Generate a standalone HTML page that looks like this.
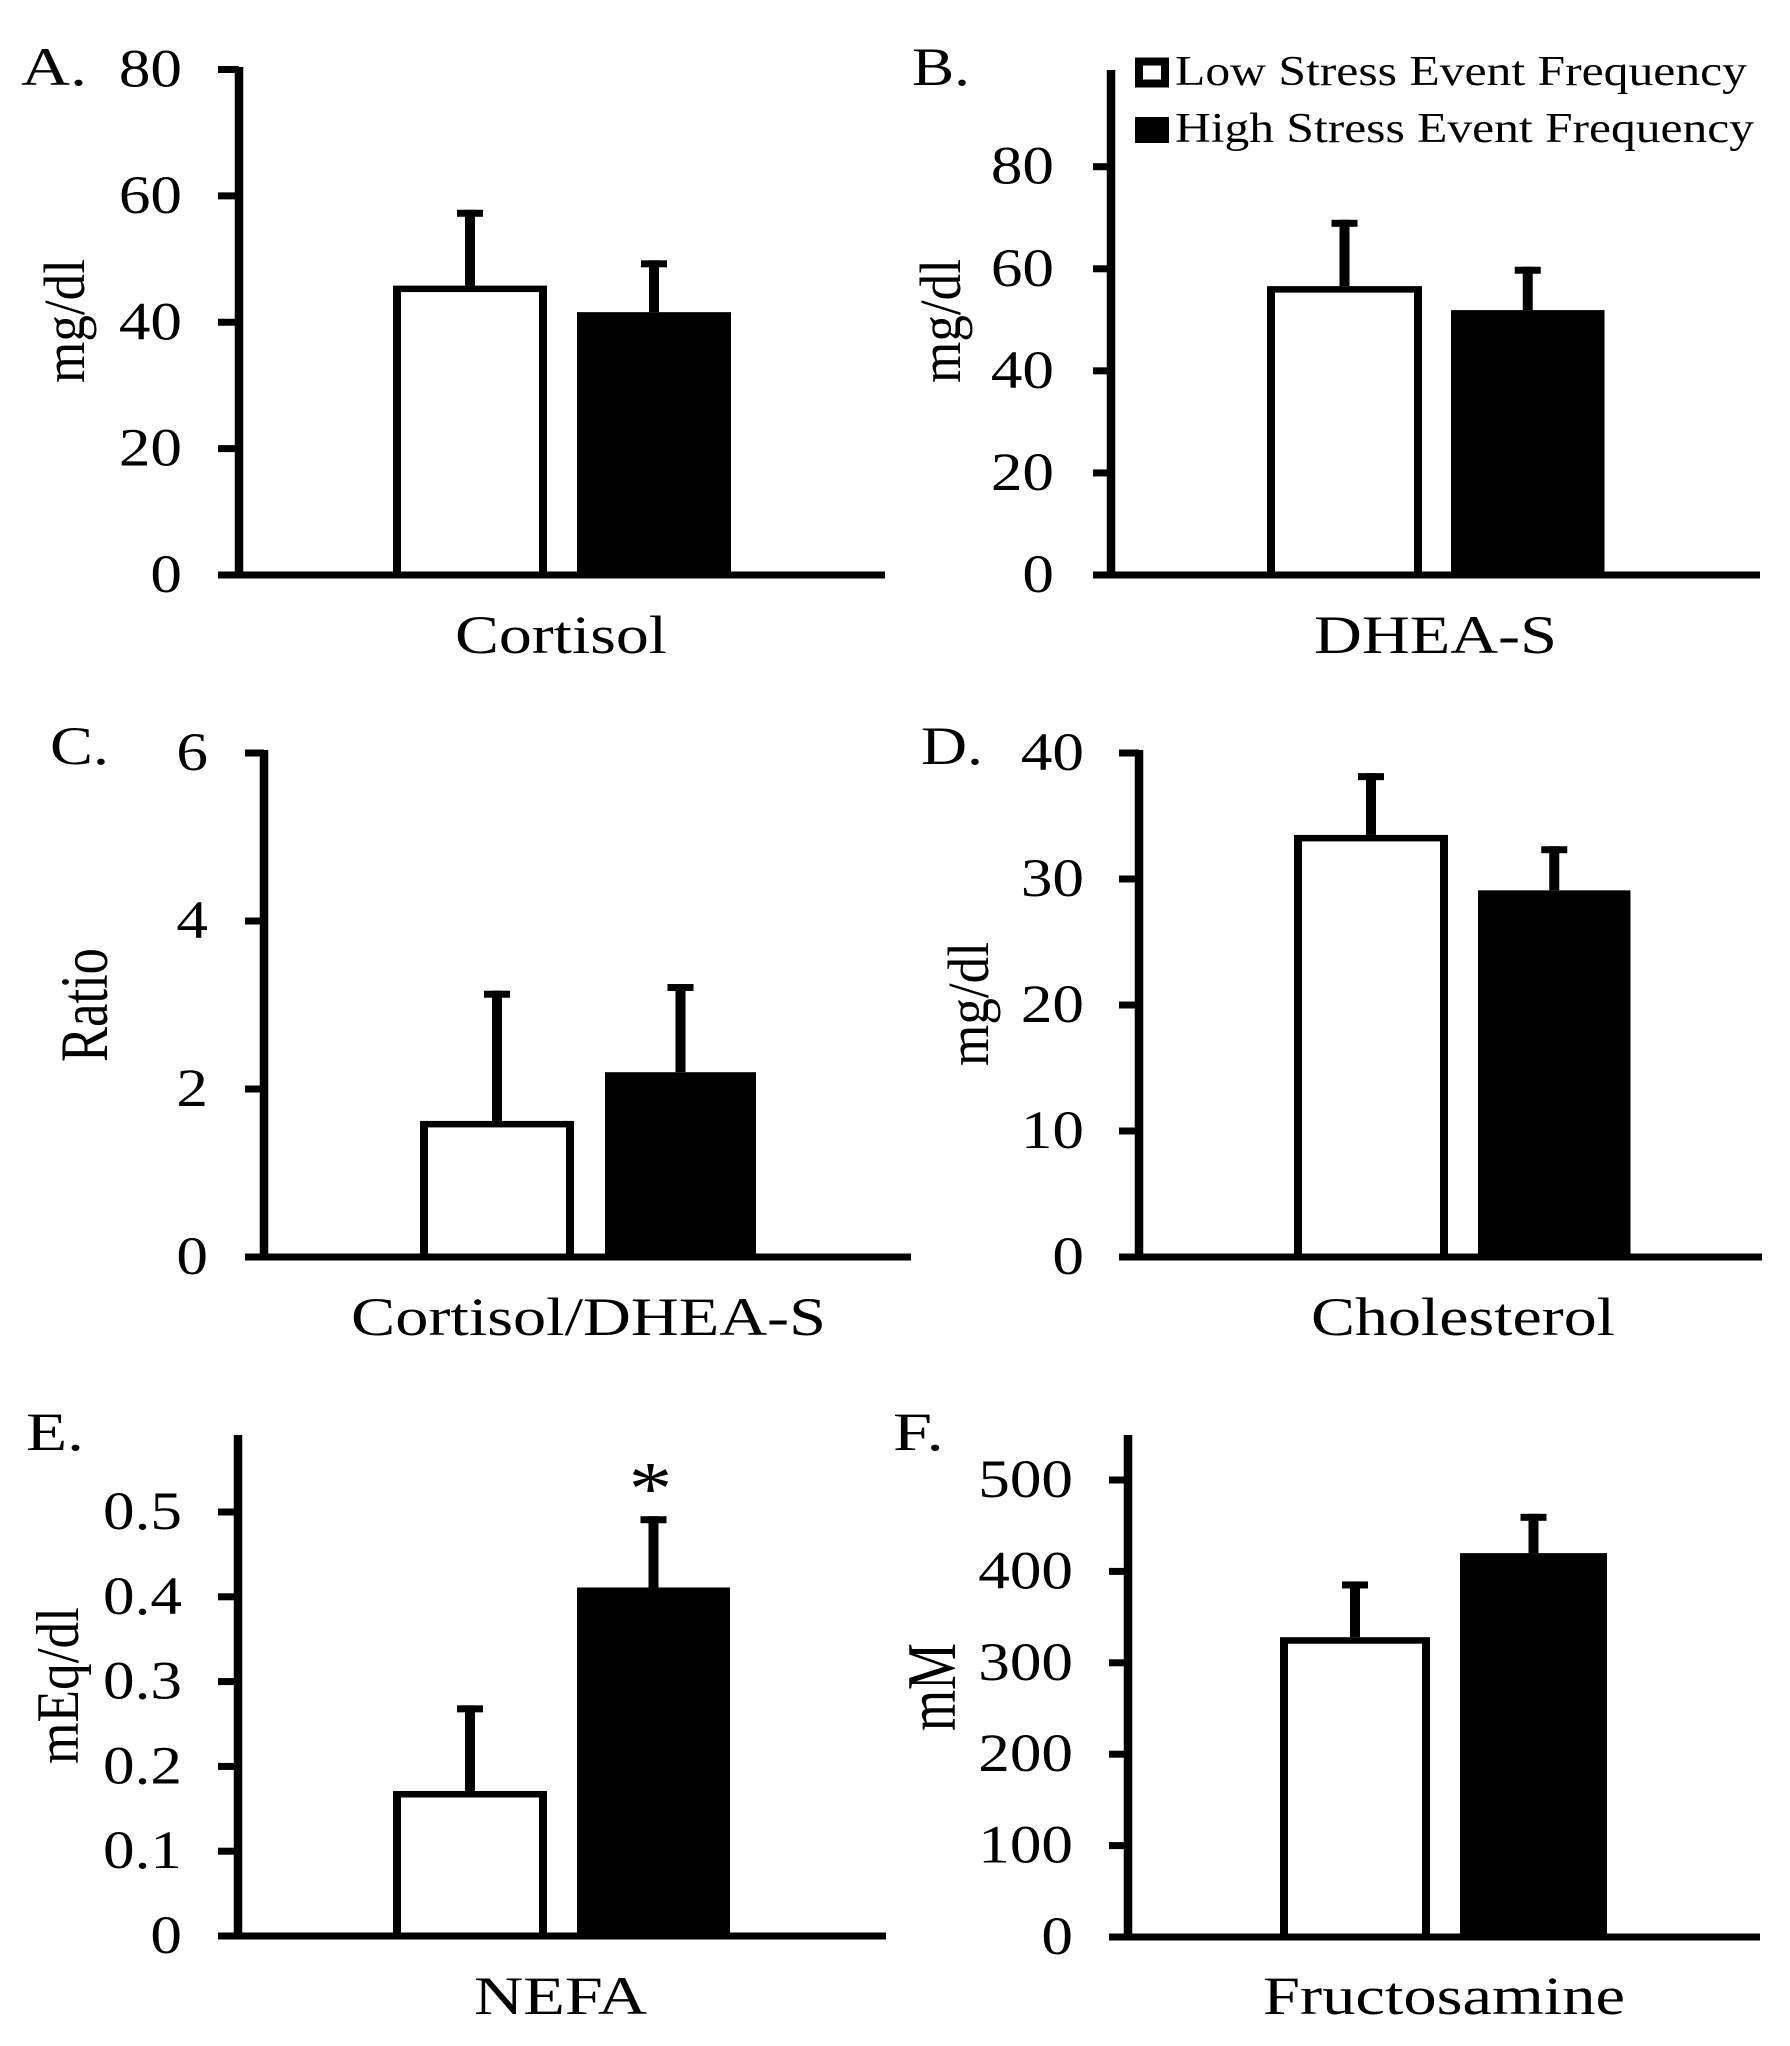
<!DOCTYPE html>
<html lang="en">
<head>
<meta charset="utf-8">
<title>Stress event frequency biomarkers</title>
<style>
html,body{margin:0;padding:0;background:#fff;}
svg{display:block;}
text{font-family:"Liberation Serif",serif;fill:#000;}
</style>
</head>
<body>
<svg id="figure" xmlns="http://www.w3.org/2000/svg" width="1790" height="2046" viewBox="0 0 1790 2046">
  <rect x="0" y="0" width="1790" height="2046" fill="#fff"/>
  <g>
    <g>
      <rect x="1139" y="61.5" width="26" height="22" fill="#fff" stroke="#000" stroke-width="8"/>
      <text x="1175" y="85" font-size="42" textLength="572" lengthAdjust="spacingAndGlyphs">Low Stress Event Frequency</text>
    </g>
    <g>
      <rect x="1135" y="117" width="34" height="26" fill="#000"/>
      <text x="1175" y="142" font-size="42" textLength="579" lengthAdjust="spacingAndGlyphs">High Stress Event Frequency</text>
    </g>
  </g>
</svg>
<script>
// Chart data
const categories = ['Cortisol', 'DHEA-S', 'Cortisol/DHEA-S', 'Cholesterol', 'NEFA', 'Fructosamine'];
const panelLetters = ['A.', 'B.', 'C.', 'D.', 'E.', 'F.'];
const yTitles = ['mg/dl', 'mg/dl', 'Ratio', 'mg/dl', 'mEq/dl', 'mM'];
const lowMeans = [45.8, 56.6, 1.62, 33.5, 0.171, 328];
const lowErrors = [12, 13, 1.55, 4.9, 0.101, 61];
const highMeans = [41.6, 51.9, 2.2, 29.1, 0.411, 420];
const highErrors = [8.2, 8.5, 1.05, 3.5, 0.084, 43];
const ticksA = [0, 20, 40, 60, 80];
const ticksB = [0, 20, 40, 60, 80];
const ticksC = [0, 2, 4, 6];
const ticksD = [0, 10, 20, 30, 40];
const ticksE = [0, 0.1, 0.2, 0.3, 0.4, 0.5];
const ticksF = [0, 100, 200, 300, 400, 500];
const tickSets = [ticksA, ticksB, ticksC, ticksD, ticksE, ticksF];
const significance = ['', '', '', '', '*', ''];

// Panel geometry (layout only)
const layouts = [
  {axisX:239, axisTop:67, base:575, calV:80, calY:69.5, tickL:218, right:885, low:[393,547], high:[577,731], labelR:182,
   letter:{x:21,y:85,w:66}, cat:{x:455,y:653,w:212}, title:{x:84,bottom:383,len:124,fs:58}},
  {axisX:1111, axisTop:70, base:575, calV:80, calY:166.7, tickL:1093, right:1760, low:[1267,1422], high:[1451,1604.5], labelR:1054,
   letter:{x:912,y:85,w:58}, cat:{x:1314,y:653,w:243}, title:{x:960,bottom:383,len:124,fs:58}},
  {axisX:264, axisTop:750, base:1257, calV:6, calY:753, tickL:245, right:911, low:[420,574], high:[605,756], labelR:208,
   letter:{x:50,y:764,w:59}, cat:{x:351,y:1335,w:475}, title:{x:107,bottom:1062,len:114,fs:68}},
  {axisX:1139, axisTop:750, base:1257, calV:40, calY:753, tickL:1119, right:1762, low:[1294,1448], high:[1478,1630.5], labelR:1084,
   letter:{x:921,y:764,w:62}, cat:{x:1311,y:1335,w:304}, title:{x:988,bottom:1066,len:124,fs:58}},
  {axisX:238, axisTop:1435, base:1936, calV:0.5, calY:1512, tickL:218, right:886, low:[393,547], high:[577,730], labelR:182,
   letter:{x:26,y:1450,w:58}, cat:{x:474,y:2014,w:173}, title:{x:78,bottom:1764,len:157,fs:60}},
  {axisX:1128, axisTop:1435, base:1937, calV:500, calY:1480, tickL:1109, right:1760, low:[1280,1430], high:[1460,1607], labelR:1073,
   letter:{x:893,y:1450,w:51}, cat:{x:1263,y:2014,w:362}, title:{x:955,bottom:1731,len:88,fs:70}}
];

const SVG_NS = 'http://www.w3.org/2000/svg';
const figure = document.getElementById('figure');

function makeRect(parent, x, y, w, h, fill) {
  const r = document.createElementNS(SVG_NS, 'rect');
  r.setAttribute('x', x);
  r.setAttribute('y', y);
  r.setAttribute('width', w);
  r.setAttribute('height', h);
  r.setAttribute('fill', fill);
  parent.appendChild(r);
  return r;
}
function makeText(parent, content, fontSize) {
  const t = document.createElementNS(SVG_NS, 'text');
  t.setAttribute('font-size', fontSize);
  t.textContent = content;
  parent.appendChild(t);
  return t;
}
function makeGroup(parent) {
  const g = document.createElementNS(SVG_NS, 'g');
  parent.appendChild(g);
  return g;
}

const LINE_V = 8.5, LINE_H = 7, BAR_V = 8, BAR_H = 6.5, STEM = 10, CAP_W = 26, CAP_H = 7;

function drawErrorBar(parent, center, yMean, yTop, key) {
  const stem = makeRect(parent, center - STEM / 2, yTop, STEM, yMean - yTop, '#000');
  
  
  const cap = makeRect(parent, center - CAP_W / 2, yTop, CAP_W, CAP_H, '#000');
  
  
}

categories.forEach(function (category, i) {
  const L = layouts[i];
  const pxPerUnit = (L.base - L.calY) / L.calV;
  const y = function (v) { return L.base - v * pxPerUnit; };

  const panel = makeGroup(figure);
  
  

  // Panel letter
  const letter = makeText(panel, panelLetters[i], 54);
  letter.setAttribute('x', L.letter.x);
  letter.setAttribute('y', L.letter.y);
  letter.setAttribute('textLength', L.letter.w);
  letter.setAttribute('lengthAdjust', 'spacingAndGlyphs');
  
  

  // Y axis title
  const title = makeText(panel, yTitles[i], L.title.fs);
  title.setAttribute('transform', 'translate(' + L.title.x + ',' + L.title.bottom + ') rotate(-90)');
  title.setAttribute('textLength', L.title.len);
  title.setAttribute('lengthAdjust', 'spacingAndGlyphs');
  
  

  // Bars
  const lowTop = y(lowMeans[i]);
  const lowOuter = makeRect(panel, L.low[0], lowTop, L.low[1] - L.low[0], L.base - lowTop, '#000');
  
  
  const lowInner = makeRect(panel, L.low[0] + BAR_V, lowTop + BAR_H, L.low[1] - L.low[0] - 2 * BAR_V, L.base - lowTop - BAR_H, '#fff');
  
  
  drawErrorBar(panel, (L.low[0] + L.low[1]) / 2, lowTop, y(lowMeans[i] + lowErrors[i]), 'low-stress');

  const highTop = y(highMeans[i]);
  const highBar = makeRect(panel, L.high[0], highTop, L.high[1] - L.high[0], L.base - highTop, '#000');
  
  
  drawErrorBar(panel, (L.high[0] + L.high[1]) / 2, highTop, y(highMeans[i] + highErrors[i]), 'high-stress');

  // Axes
  const yAxis = makeRect(panel, L.axisX - LINE_V / 2, L.axisTop, LINE_V, L.base - L.axisTop + LINE_H / 2, '#000');
  
  
  const xAxis = makeRect(panel, L.tickL, L.base - LINE_H / 2, L.right - L.tickL, LINE_H, '#000');
  
  

  // Ticks and labels
  tickSets[i].forEach(function (v) {
    const tick = makeRect(panel, L.tickL, y(v) - LINE_H / 2, L.axisX - L.tickL, LINE_H, '#000');
    
    
    const label = makeText(panel, String(v), 54);
    label.setAttribute('text-anchor', 'end');
    label.setAttribute('transform', 'translate(' + L.labelR + ',' + (y(v) + 17) + ') scale(1.17,1)');
    
    
  });

  // Category label
  const cat = makeText(panel, category, 54);
  cat.setAttribute('x', L.cat.x);
  cat.setAttribute('y', L.cat.y);
  cat.setAttribute('textLength', L.cat.w);
  cat.setAttribute('lengthAdjust', 'spacingAndGlyphs');
  
  

  // Significance marker
  if (significance[i]) {
    const mark = makeText(panel, significance[i], 76);
    mark.setAttribute('text-anchor', 'middle');
    mark.setAttribute('transform', 'translate(' + ((L.high[0] + L.high[1]) / 2 - 3) + ',' + (y(highMeans[i] + highErrors[i]) - 2) + ') scale(1.15,1)');
    
    
  }
});
</script>
</body>
</html>
